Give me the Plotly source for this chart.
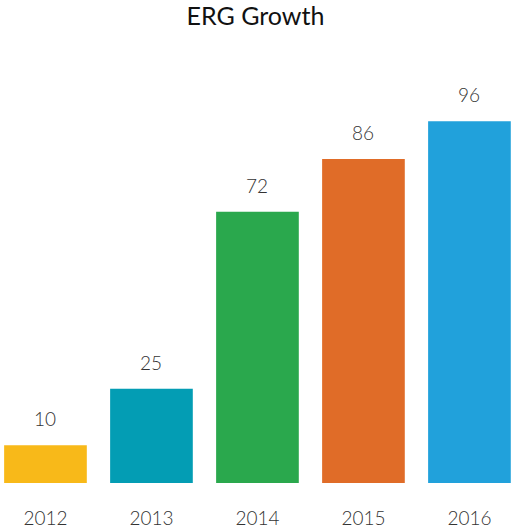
import plotly.graph_objects as go

years = ["2012", "2013", "2014", "2015", "2016"]
values = [10, 25, 72, 86, 96]
colors = ["#F8B919", "#039DB4", "#2AA84D", "#E06C28", "#21A1DB"]

FONT = "Lato, 'Open Sans', sans-serif"

fig = go.Figure()
fig.add_trace(go.Bar(
    x=years, y=values, marker=dict(color=colors, line=dict(width=0)),
    hoverinfo="skip",
))
for i, v in enumerate(values):
    fig.add_annotation(x=i, y=v, xref="x", yref="y", text=str(v), showarrow=False,
                       yanchor="bottom", yshift=13,
                       font=dict(family=FONT, size=19, color="#333333", weight=300))

fig.update_layout(
    width=511, height=529,
    margin=dict(l=0, r=0, t=80, b=46),
    paper_bgcolor="white", plot_bgcolor="white",
    bargap=0.22,
    showlegend=False,
    title=dict(text="ERG Growth", x=0.5, xanchor="center", y=0.97, yanchor="middle",
               font=dict(family=FONT, size=25, color="#111111")),
    xaxis=dict(type="category", range=[-0.429, 4.392], showgrid=False, zeroline=False,
               showline=False, ticks="", ticklabelstandoff=22, automargin=False,
               tickfont=dict(family=FONT, size=19, color="#333333", weight=300)),
    yaxis=dict(range=[0, 106.95], visible=False, showgrid=False, zeroline=False),
)
fig.write_html("out.html", config={"displayModeBar": False},
               post_script="document.body.style.margin='0';document.body.style.padding='0';")
